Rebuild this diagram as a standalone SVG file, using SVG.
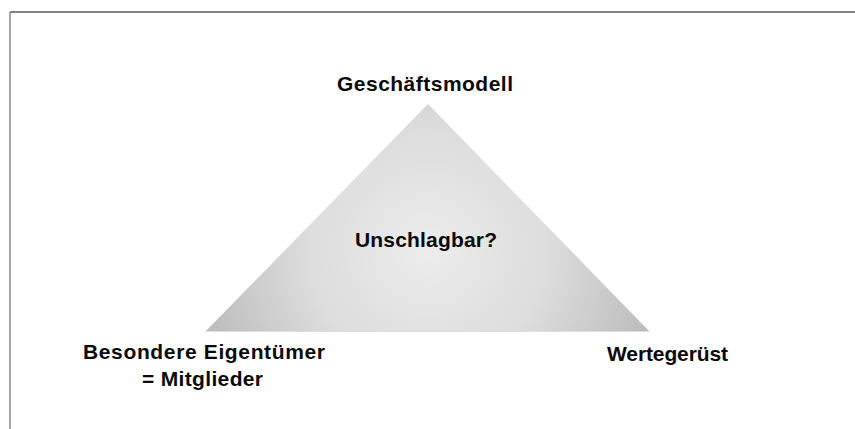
<svg xmlns="http://www.w3.org/2000/svg" width="855" height="429" viewBox="0 0 855 429">
  <defs>
    <radialGradient id="triFill" gradientUnits="userSpaceOnUse" cx="428" cy="250" r="240">
      <stop offset="0" stop-color="#ececec"/>
      <stop offset="0.5" stop-color="#dddddd"/>
      <stop offset="1" stop-color="#bababa"/>
    </radialGradient>
  </defs>
  <style>
    .lbl { font-family: "Liberation Sans", Arial, sans-serif; font-weight: bold; font-size: 21px; fill: #0a0a0a; }
  </style>
  <rect x="0" y="0" width="855" height="429" fill="#ffffff"/>
  <g id="frame">
    <line x1="10" y1="12" x2="855" y2="12" stroke="#5a5a5a" stroke-width="1.3"/>
    <line x1="10" y1="12" x2="10" y2="429" stroke="#8c8c8c" stroke-width="1.6"/>
  </g>
  <g id="triangle">
    <polygon points="428,104 650,332 205,332" fill="url(#triFill)"/>
    <line x1="206" y1="331.5" x2="649" y2="331.5" stroke="#dedede" stroke-width="1.2"/>
    <text class="lbl" x="355" y="247" textLength="142" lengthAdjust="spacing">Unschlagbar?</text>
  </g>
  <g id="node-top">
    <text class="lbl" x="337" y="91" textLength="176" lengthAdjust="spacing">Geschäftsmodell</text>
  </g>
  <g id="node-left">
    <text class="lbl" x="83" y="359" textLength="242" lengthAdjust="spacing">Besondere Eigentümer</text>
    <text class="lbl" x="142" y="386" textLength="121" lengthAdjust="spacing">= Mitglieder</text>
  </g>
  <g id="node-right">
    <text class="lbl" x="607" y="361" textLength="121" lengthAdjust="spacing">Wertegerüst</text>
  </g>
  <g id="connectors"></g>
</svg>
